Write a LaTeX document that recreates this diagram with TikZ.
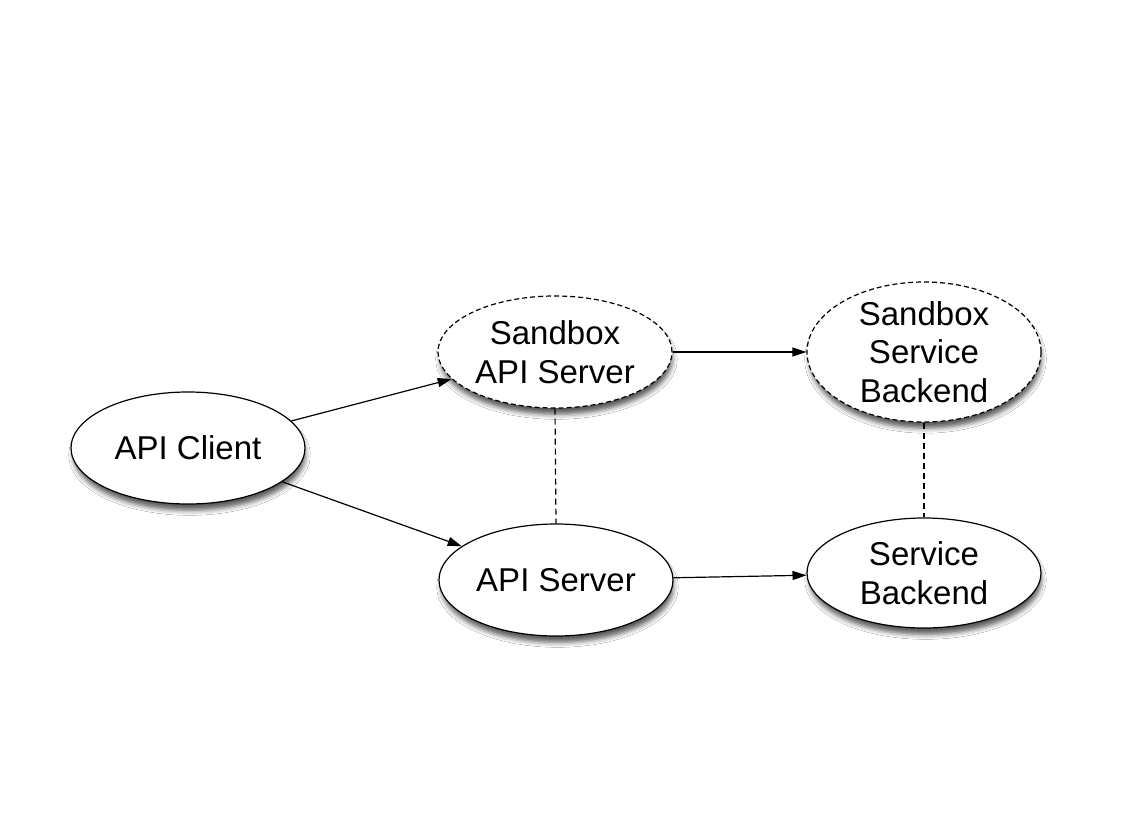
\documentclass[tikz,border=0pt]{standalone}
\usepackage{fontspec}
\setmainfont{Liberation Sans}
\usetikzlibrary{shapes.geometric,arrows.meta,shadows.blur}
\begin{document}
\begin{tikzpicture}[x=1pt,y=-1pt,
  oval/.style={ellipse, draw=black, line width=1.2pt, fill=white,
    minimum width=234pt, minimum height=112pt, inner xsep=0pt, inner ysep=-20pt,
    align=center, font=\fontsize{33}{38.5}\selectfont,
    blur shadow={shadow xshift=1.5pt, shadow yshift=-7pt, shadow blur radius=5pt, shadow opacity=65, shadow scale=0.99}},
  sandbox/.style={oval, dash pattern=on 5pt off 3pt},
  link/.style={line width=1.2pt, -{Triangle[length=14pt,width=9pt]}},
  peer/.style={line width=1.2pt, dash pattern=on 6pt off 4pt}]
\fill[white] (0,0) rectangle (1134,829);
\useasboundingbox (0,0) rectangle (1134,829);
\node[oval] (client) at (188,448) {API Client};
\node[sandbox] (sapi) at (555,352) {Sandbox\\API Server};
\node[sandbox, minimum height=140pt] (ssb) at (924,352) {Sandbox\\Service\\Backend};
\node[oval, minimum height=112pt] (api) at (556,580) {API Server};
\node[oval, minimum height=110pt] (sb) at (924,573) {Service\\Backend};
\draw[link] (client) -- (sapi);
\draw[link] (client) -- (api);
\draw[link] (sapi) -- (ssb);
\draw[link] (api) -- (sb);
\draw[peer] (sapi.south) -- (api.north);
\draw[peer] (ssb.south) -- (sb.north);
\end{tikzpicture}
\end{document}
